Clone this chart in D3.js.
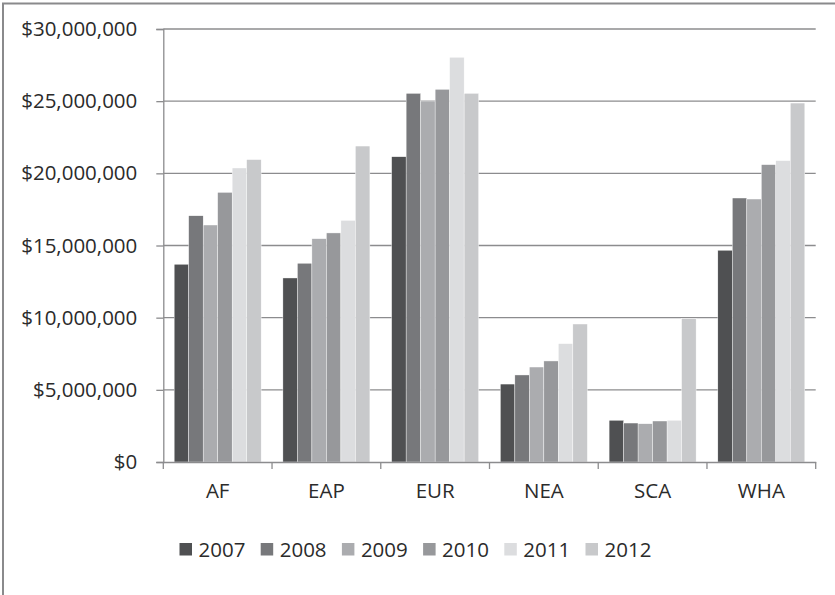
<!DOCTYPE html>
<html><head><meta charset="utf-8">
<script src="https://cdn.jsdelivr.net/npm/d3@7"></script>
<style>body{margin:0;background:#fff}svg{display:block}</style>
</head><body>
<svg id="c" width="835" height="595"></svg>
<script>
const categories = ["AF","EAP","EUR","NEA","SCA","WHA"];
const years = ["2007","2008","2009","2010","2011","2012"];
const v2007 = [13700000,12750000,21150000,5400000,2890000,14670000];
const v2008 = [17060000,13770000,25540000,6030000,2700000,18290000];
const v2009 = [16420000,15470000,25010000,6580000,2650000,18220000];
const v2010 = [18680000,15870000,25820000,7000000,2840000,20600000];
const v2011 = [20370000,16740000,28040000,8200000,2890000,20880000];
const v2012 = [20950000,21890000,25540000,9560000,9930000,24870000];
const yTicks = [0,5000000,10000000,15000000,20000000,25000000,30000000];
const seriesValues = [v2007,v2008,v2009,v2010,v2011,v2012];
const colors = ["#4f5052","#77787b","#abacaf","#97989b","#dcdddf","#c8c9cb"];

(function(){
const svg = d3.select("#c");
const font = "'Open Sans', 'Liberation Sans', Arial, sans-serif";
const pLeft = 163.3, pRight = 815.7, pTop = 29, pBottom = 462;

svg.append("rect").attr("x",3).attr("y",3.5).attr("width",900).attr("height",700)
  .attr("fill","none").attr("stroke","#8a8a8c").attr("stroke-width",2);

const x0 = d3.scaleBand().domain(categories).range([pLeft,pRight]).paddingInner(0).paddingOuter(0);
const x1 = d3.scaleBand().domain(years).range([0,x0.bandwidth()]).paddingOuter(0.75).paddingInner(0);
const y = d3.scaleLinear().domain([0,30000000]).range([pBottom,pTop]);

// gridlines
svg.append("g").selectAll("line").data(yTicks.filter(d=>d>0)).join("line")
  .attr("x1",pLeft).attr("x2",pRight).attr("y1",d=>y(d)).attr("y2",d=>y(d))
  .attr("stroke","#8c8c8e").attr("stroke-width",1.3);

// bars
const data = [];
categories.forEach((c,i)=>years.forEach((yr,j)=>data.push({c,yr,v:seriesValues[j][i],j})));
svg.append("g").selectAll("rect").data(data).join("rect")
  .attr("x",d=>x0(d.c)+x1(d.yr)).attr("width",x1.bandwidth())
  .attr("y",d=>y(d.v)).attr("height",d=>pBottom-y(d.v))
  .attr("fill",d=>colors[d.j]).attr("stroke","#ffffff").attr("stroke-width",0.4);

// y axis
const yAxis = svg.append("g").attr("transform",`translate(${pLeft},0)`)
  .call(d3.axisLeft(y).tickValues(yTicks).tickSize(7).tickPadding(19)
    .tickFormat(d=>"$"+d3.format(",")(d)));
yAxis.select(".domain").attr("stroke","#8c8c8e").attr("stroke-width",1.3);
yAxis.selectAll(".tick line").attr("stroke","#8c8c8e").attr("stroke-width",1.3);
yAxis.selectAll("text").attr("font-family",font).attr("font-size",20.5).attr("fill","#2b2b2b");

// x axis
const xAxis = svg.append("g").attr("transform",`translate(0,${pBottom})`)
  .call(d3.axisBottom(x0).tickSize(0).tickPadding(21));
xAxis.select(".domain").attr("stroke","#8c8c8e").attr("stroke-width",1.3);
xAxis.selectAll("text").attr("font-family",font).attr("font-size",20.5).attr("fill","#2b2b2b");
const bounds = categories.map(c=>x0(c)).concat([pRight]);
svg.append("g").selectAll("line").data(bounds).join("line")
  .attr("x1",d=>d).attr("x2",d=>d).attr("y1",pBottom).attr("y2",pBottom+7)
  .attr("stroke","#8c8c8e").attr("stroke-width",1.3);

// legend
const legend = svg.append("g").selectAll("g").data(years).join("g")
  .attr("transform",(d,i)=>`translate(${179.5+i*81.2},543)`);
legend.append("rect").attr("width",12.5).attr("height",12.5).attr("fill",(d,i)=>colors[i]);
legend.append("text").attr("x",19).attr("y",6.5).attr("dy","0.35em")
  .attr("font-family",font).attr("font-size",20.5).attr("fill","#2b2b2b").text(d=>d);
})();
</script>
</body></html>
